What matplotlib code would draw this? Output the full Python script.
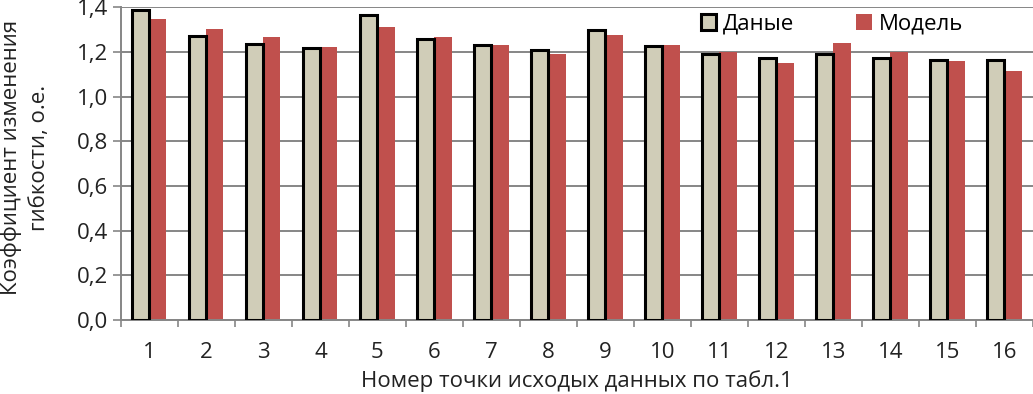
import numpy as np
import matplotlib.pyplot as plt

# данные с рисунка
tochki = [str(i) for i in range(1, 17)]
danye = [1.39, 1.27, 1.235, 1.218, 1.368, 1.26, 1.23, 1.21,
         1.30, 1.228, 1.192, 1.172, 1.192, 1.172, 1.165, 1.165]
model = [1.347, 1.302, 1.267, 1.225, 1.311, 1.267, 1.234, 1.19,
         1.276, 1.234, 1.20, 1.153, 1.243, 1.20, 1.162, 1.117]
y_ticks = [0.0, 0.2, 0.4, 0.6, 0.8, 1.0, 1.2, 1.4]

plt.rcParams['font.family'] = ['Open Sans', 'DejaVu Sans']
fs = 16

fig = plt.figure(figsize=(10.33, 3.94), dpi=100)
ax = fig.add_axes([0.117, 0.188, 0.883, 0.793])

x = np.arange(len(tochki))
w = 0.3
ax.bar(x - w / 2, danye, w, color='#D0CDB8', edgecolor='black', linewidth=2.2,
       label='Даные', zorder=3)
ax.bar(x + w / 2, model, w, color='#C0504D', edgecolor='none',
       label='Модель', zorder=2)

ax.set_xlim(-0.5, len(tochki) - 0.5)
ax.set_ylim(0, 1.4)
ax.set_yticks(y_ticks)
ax.set_yticklabels([f'{v:.1f}'.replace('.', ',') for v in y_ticks], fontsize=fs, color='#222222')
ax.set_xticks(x)
ax.set_xticklabels(tochki, fontsize=fs, color='#222222')
ax.set_xticks(np.arange(-0.5, len(tochki)), minor=True)
ax.tick_params(axis='x', which='major', length=0, pad=16)
ax.tick_params(axis='x', which='minor', length=5, color='#868686', width=1.2)
ax.tick_params(axis='y', length=6, color='#868686', width=1.2, pad=3)

ax.grid(axis='y', color='#868686', linewidth=1.4, zorder=0)
ax.set_axisbelow(True)
for s in ['top', 'right']:
    ax.spines[s].set_visible(False)
for s in ['left', 'bottom']:
    ax.spines[s].set_color('#868686')
    ax.spines[s].set_linewidth(1.4)

ax.set_ylabel('Коэффициент изменения\nгибкости, о.е.', fontsize=fs, color='#222222',
              linespacing=1.4)
ax.yaxis.set_label_coords(-0.078, 0.52)
ax.set_xlabel('Номер точки исходых данных по табл.1', fontsize=fs, color='#222222', labelpad=5)

leg = ax.legend(loc='upper right', bbox_to_anchor=(0.945, 1.045), ncol=2, frameon=False,
                fontsize=fs, handlelength=0.7, handleheight=0.75, columnspacing=2.8,
                handletextpad=0.3)
leg.set_zorder(5)

fig.savefig('out.png', dpi=100)
